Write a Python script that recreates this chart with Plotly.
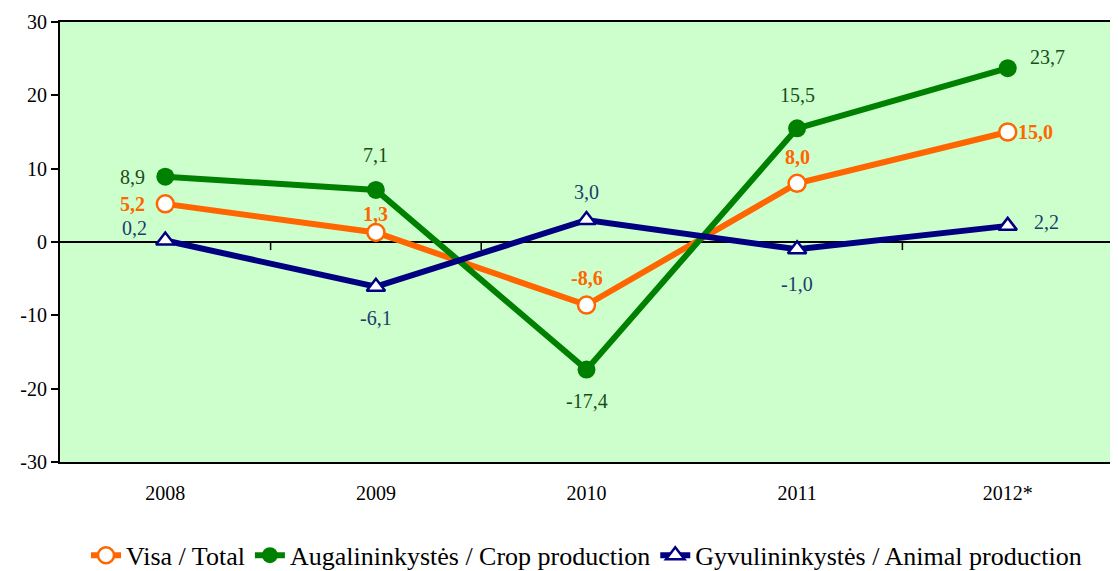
import plotly.graph_objects as go

years = ["2008", "2009", "2010", "2011", "2012*"]
total = [5.2, 1.3, -8.6, 8.0, 15.0]
crop = [8.9, 7.1, -17.4, 15.5, 23.7]
animal = [0.2, -6.1, 3.0, -1.0, 2.2]
y_ticks = [-30, -20, -10, 0, 10, 20, 30]

# label offsets (px) for each point: (xshift, yshift)
total_off = [(-33, 0), (0, 18), (0, 27), (0, 26), (28, 0)]
crop_off = [(-33, 0), (0, 35), (0, -31), (0, 33), (40, 11)]
animal_off = [(-31, 13), (0, -31), (0, 28), (0, -35), (39, 4)]

FONT = "Liberation Serif"


def fmt(v):
    return f"{v:.1f}".replace(".", ",")


fig = go.Figure()

fig.add_trace(go.Scatter(
    x=years, y=total, name="Visa / Total", mode="lines+markers",
    line=dict(color="#FF6600", width=6),
    marker=dict(symbol="circle", size=17, color="white",
                line=dict(color="#FF6600", width=2.5)),
))
fig.add_trace(go.Scatter(
    x=years, y=crop, name="Augalininkystės / Crop production", mode="lines+markers",
    line=dict(color="#008000", width=6),
    marker=dict(symbol="circle", size=18, color="#008000"),
))
fig.add_trace(go.Scatter(
    x=years, y=animal, name="Gyvulininkystės / Animal production", mode="lines+markers",
    line=dict(color="#000080", width=6),
    marker=dict(symbol="triangle-up", size=16, color="white",
                line=dict(color="#000080", width=2.5)),
))

annotations = []
for vals, offs, color, bold in [
    (total, total_off, "#FF6600", True),
    (crop, crop_off, "#1a4d1a", False),
    (animal, animal_off, "#1a3d6e", False),
]:
    for i, (v, (dx, dy)) in enumerate(zip(vals, offs)):
        txt = fmt(v)
        if bold:
            txt = "<b>" + txt + "</b>"
        annotations.append(dict(
            x=i, y=v, text=txt, showarrow=False, xshift=dx, yshift=dy,
            font=dict(family=FONT, size=20, color=color),
        ))

# tick marks on the zero line between categories
shapes = []
for b in [0.5, 1.5, 2.5, 3.5]:
    shapes.append(dict(type="line", xref="x", yref="y", x0=b, x1=b, y0=0, y1=-1.1,
                       line=dict(color="black", width=1.5), layer="below"))

fig.update_layout(
    width=1118, height=571,
    margin=dict(l=52, r=13, t=14, b=117, autoexpand=False),
    paper_bgcolor="white",
    plot_bgcolor="#CCFFCC",
    font=dict(family=FONT, size=20, color="black"),
    showlegend=True,
    legend=dict(orientation="h", x=0.5, xanchor="center", y=-0.212, yanchor="middle",
                font=dict(family=FONT, size=26), tracegroupgap=0),
    annotations=annotations,
    shapes=shapes,
)
fig.update_xaxes(
    range=[-0.5, 4.5], showgrid=False, ticks="", zeroline=False,
    showline=True, linecolor="black", linewidth=2, mirror=True,
    tickfont=dict(family=FONT, size=20), ticklabelstandoff=12,
)
fig.update_yaxes(
    range=[-30, 30], tickvals=y_ticks, ticktext=[str(t) for t in y_ticks],
    showgrid=False,
    zeroline=True, zerolinecolor="black", zerolinewidth=2,
    showline=True, linecolor="black", linewidth=2, mirror=True,
    ticks="outside", ticklen=7, tickwidth=1.5, tickcolor="black",
    tickfont=dict(family=FONT, size=20),
)

fig.write_html("out.html")
